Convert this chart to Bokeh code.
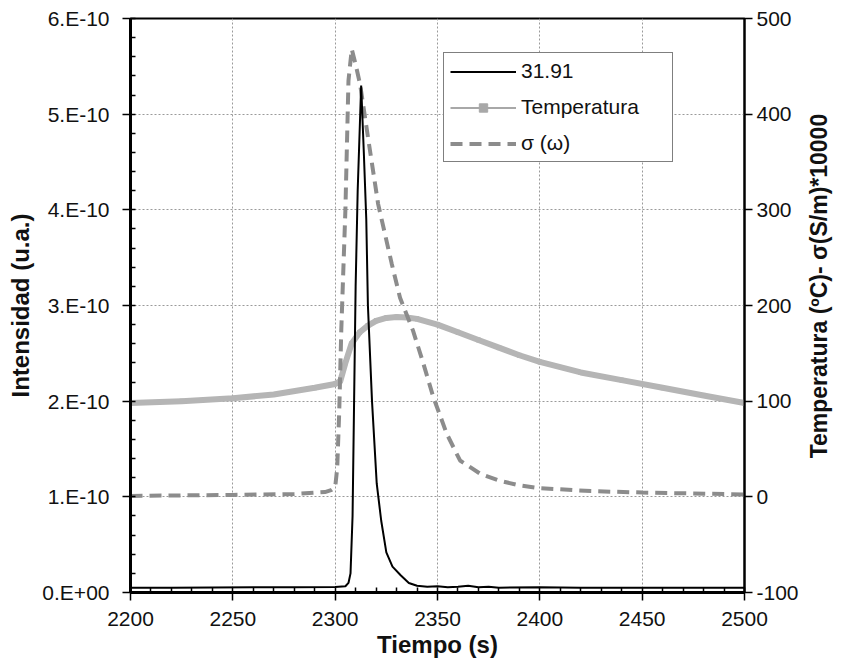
import math
from bokeh.plotting import figure
from bokeh.models import (Range1d, LinearAxis, FixedTicker, CustomJSTickFormatter,
                          Legend, LegendItem)
from bokeh.embed import file_html
from bokeh.resources import INLINE

# ---------------- data ----------------
# Intensity of m/z 31.91 (u.a.)
t_int = [2200, 2220, 2240, 2260, 2280, 2300, 2305, 2306.5, 2307.5, 2308.5, 2310, 2311,
         2312.7, 2314, 2315.2, 2316, 2318, 2320.3, 2322.5, 2325, 2328, 2332, 2336, 2340,
         2345, 2350, 2355, 2360, 2365, 2370, 2375, 2380, 2400, 2420, 2450, 2475, 2500]
intensity = [0.050e-10, 0.050e-10, 0.052e-10, 0.054e-10, 0.055e-10, 0.058e-10, 0.065e-10,
             0.10e-10, 0.20e-10, 0.80e-10, 3.20e-10, 4.20e-10, 5.30e-10, 4.60e-10, 3.90e-10,
             3.00e-10, 2.00e-10, 1.14e-10, 0.75e-10, 0.42e-10, 0.27e-10, 0.18e-10, 0.10e-10,
             0.07e-10, 0.06e-10, 0.065e-10, 0.055e-10, 0.06e-10, 0.07e-10, 0.055e-10,
             0.06e-10, 0.05e-10, 0.055e-10, 0.05e-10, 0.05e-10, 0.05e-10, 0.05e-10]

# Temperature (ºC)
t_temp = [2200, 2225, 2250, 2270, 2290, 2300, 2302.5, 2305, 2308, 2312, 2316, 2320, 2325,
          2330, 2335, 2340, 2350, 2360, 2370, 2380, 2390, 2400, 2420, 2440, 2460, 2480, 2500]
temperature = [98, 100, 103, 107, 114, 118, 121, 140, 160, 172, 179, 184, 187, 188, 187.5,
               186, 180, 172, 164, 156, 148, 141, 130, 122, 114, 106, 98]

# Conductivity sigma (S/m)*10000
t_sig = [2200, 2250, 2280, 2295, 2298, 2300, 2301, 2302, 2303, 2305, 2306.5, 2308.1, 2310,
         2312.2, 2316.3, 2321, 2327.6, 2331.7, 2338, 2343, 2348, 2354.5, 2361, 2371, 2380,
         2390, 2400, 2425, 2450, 2475, 2500]
sigma = [1, 2, 3, 5, 7, 10, 30, 90, 175, 300, 435, 468, 452, 431, 372, 306, 244, 208, 174,
         140, 104, 66, 38, 24, 17, 12, 9, 6, 4.5, 3.5, 2.5]

x_ticks = [2200, 2250, 2300, 2350, 2400, 2450, 2500]
left_ticks = [0, 1e-10, 2e-10, 3e-10, 4e-10, 5e-10, 6e-10]
right_ticks = [-100, 0, 100, 200, 300, 400, 500]
legend_labels = ["31.91", "Temperatura", "σ (ω)"]
right_label = "Temperatura (ºC)- σ(S/m)*10000"

FONT = "Liberation Sans"

p = figure(width=847, height=665, output_backend="svg", toolbar_location=None,
           x_range=Range1d(2200, 2500), y_range=Range1d(0, 6e-10),
           min_border_left=130, min_border_right=102, min_border_top=18,
           min_border_bottom=73)
p.extra_y_ranges = {"right": Range1d(-100, 500)}
p.background_fill_color = "white"
p.border_fill_color = "white"
p.outline_line_color = "black"
p.outline_line_width = 2

xticker = FixedTicker(ticks=x_ticks, minor_ticks=list(range(2200, 2501, 10)))
lticker = FixedTicker(ticks=left_ticks, minor_ticks=[i * 0.2e-10 for i in range(31)])
rticker = FixedTicker(ticks=right_ticks)

# grids
for g, tk in ((p.xgrid, xticker), (p.ygrid, lticker)):
    g.ticker = tk
    g.grid_line_color = "#9a9a9a"
    g.grid_line_dash = "2 2"
    g.grid_line_width = 1

# bottom axis
xa = p.xaxis[0]
xa.ticker = xticker
xa.axis_label = "Tiempo (s)"
# left axis
ya = p.yaxis[0]
ya.ticker = lticker
ya.axis_label = "Intensidad (u.a.)"
ya.formatter = CustomJSTickFormatter(code="""
const m = Math.round(tick * 1e10);
if (m === 0) { return "0.E+00"; }
return m + ".E-10";
""")
# right axis
ra = LinearAxis(y_range_name="right", ticker=rticker)
ra.formatter = CustomJSTickFormatter(code="return tick.toFixed(0);")
p.add_layout(ra, "right")

for ax in (xa, ya, ra):
    ax.axis_line_color = "black"
    ax.axis_line_width = 3
    ax.major_tick_line_color = "black"
    ax.major_tick_line_width = 1.5
    ax.major_tick_out = 8
    ax.major_tick_in = 0
    ax.minor_tick_line_color = "black"
    ax.minor_tick_line_width = 1.5
    ax.minor_tick_in = 5
    ax.minor_tick_out = 0
    ax.major_label_text_font = FONT
    ax.major_label_text_font_size = "21px"
    ax.major_label_text_color = "#111111"
    ax.axis_label_text_font = FONT
    ax.axis_label_text_font_style = "bold"
    ax.axis_label_text_font_size = "24px"
    ax.axis_label_text_color = "#111111"

ya.major_label_standoff = 13
ya.axis_label_standoff = 5
xa.major_label_standoff = 11
xa.axis_label_standoff = 2
ra.major_label_standoff = 4
ra.axis_label_standoff = 17
ra.axis_line_width = 2
ra.minor_tick_line_color = None
ra.axis_label_text_font_size = "23px"

# right-axis title reading bottom-to-top, starting near the bottom of the axis
if "axis_label_align" in ra.properties():
    ra.axis_label = "\u00a0" * 21 + right_label
    ra.axis_label_orientation = math.pi / 2
    ra.axis_label_align = "start"
else:
    ra.axis_label = right_label
    ra.axis_label_orientation = "vertical"

# data lines (thin line + small squares underneath give the legend glyph)
leg_tl = p.line(t_temp, temperature, y_range_name="right", line_color="#a8a8a8",
                line_width=2)
leg_tm = p.scatter(t_temp, temperature, y_range_name="right", marker="square", size=4,
                   fill_color="#a8a8a8", line_color="#a8a8a8")
r_temp = p.line(t_temp, temperature, y_range_name="right", line_color="#b5b5b5",
                line_width=6, line_join="round")
r_sig = p.line(t_sig, sigma, y_range_name="right", line_color="#8c8c8c",
               line_width=4, line_dash="12 7")
r_int = p.line(t_int, intensity, line_color="black", line_width=2)

legend = Legend(items=[
    LegendItem(label=legend_labels[0], renderers=[r_int]),
    LegendItem(label=legend_labels[1], renderers=[leg_tl, leg_tm]),
    LegendItem(label=legend_labels[2], renderers=[r_sig]),
], location=(313, 430))
legend.border_line_color = "black"
legend.border_line_width = 1.5
legend.background_fill_color = "white"
legend.background_fill_alpha = 1
legend.label_text_font = FONT
legend.label_text_font_size = "21px"
legend.label_text_color = "#111111"
legend.padding = 6
legend.spacing = 12
legend.glyph_width = 66
legend.glyph_height = 21
legend.label_height = 21
legend.label_width = 145
legend.label_standoff = 5
legend.margin = 0
p.add_layout(legend, "center")

open("out.html", "w").write(file_html(p, INLINE))
